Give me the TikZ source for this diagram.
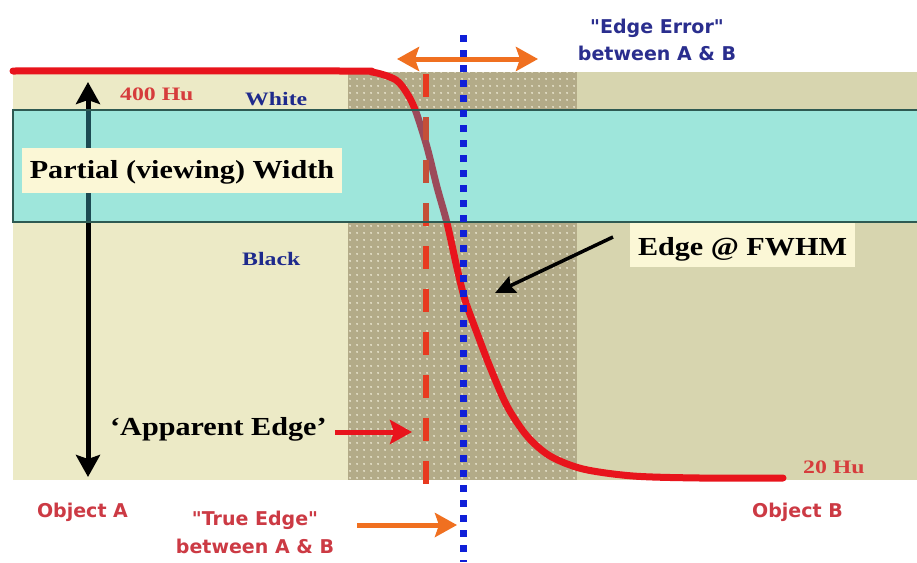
\documentclass[tikz,border=0pt]{standalone}
\usepackage{fontspec}
\setmainfont{Liberation Serif}
\newfontfamily\bigserif{Liberation Serif}[FakeStretch=1.16]
\newfontfamily\smallserif{Liberation Serif}[FakeStretch=1.25]
\newfontfamily\labsans{DejaVu Sans}
\usetikzlibrary{arrows.meta,patterns.meta}
\definecolor{beigeL}{HTML}{ECEAC6}
\definecolor{beigeM}{HTML}{B3AB88}
\definecolor{beigeR}{HTML}{D7D5AF}
\definecolor{dotc}{HTML}{EAE6D0}
\definecolor{cyanband}{HTML}{9EE6DB}
\definecolor{cyanedge}{HTML}{2E5A52}
\definecolor{cream}{HTML}{FBF7D6}
\definecolor{curvered}{HTML}{E8141C}
\definecolor{curvemute}{HTML}{9C4A5A}
\definecolor{dashred}{HTML}{E83A20}
\definecolor{dashmute}{HTML}{C45038}
\definecolor{shaftmute}{HTML}{1C4A52}
\definecolor{dotblue}{HTML}{1020D8}
\definecolor{orangearr}{HTML}{F07020}
\definecolor{txtred}{HTML}{CC3A44}
\definecolor{txtserred}{HTML}{D63C3C}
\definecolor{txtblue}{HTML}{1E2A8C}
\definecolor{txtblue2}{HTML}{2A2E8E}
\tikzdeclarepattern{
  name=wdots,
  type=uncolored,
  bounding box={(-3.25pt,-3.25pt) and (3.25pt,3.25pt)},
  tile size={(6.5pt,6.5pt)},
  code={\fill (0pt,0pt) circle (1.1pt);}
}
\newcommand{\edgecurvepath}{plot[smooth,tension=0.5] coordinates {(13,71) (340,71) (372,72) (396,80) (408,95) (416,112) (427,147) (437,187) (447,223) (457,268) (465,300) (477,333) (490,367) (507,406) (527,436) (550,456) (583,469) (633,476) (700,478) (783,478)}}
\tikzset{
  bigtxt/.style={font=\bigserif\bfseries\fontsize{26}{30}\selectfont, inner sep=0pt},
  smalltxt/.style={font=\smallserif\bfseries\fontsize{19}{22}\selectfont, inner sep=0pt, anchor=base west},
  sanstxt/.style={font=\labsans\bfseries\fontsize{19}{27}\selectfont, inner sep=0pt, anchor=base},
  labelbox/.style={bigtxt, fill=cream, align=center, text height=20pt, text depth=4pt},
  redcurve/.style={line width=7pt, color=curvered, line cap=round, line join=round},
  reddash/.style={line width=6pt, color=dashred, dash pattern=on 23pt off 20pt},
  bluedots/.style={line width=7pt, color=dotblue, dash pattern=on 7pt off 8pt},
  bigarrow/.style={line width=5pt, arrows={-Stealth[length=22pt,width=24pt,inset=4pt]}},
  bigdarrow/.style={line width=5pt, arrows={Stealth[length=22pt,width=24pt,inset=4pt]-Stealth[length=22pt,width=24pt,inset=4pt]}},
  thinarrow/.style={line width=3.5pt, arrows={-Stealth[length=20pt,width=18pt,inset=3pt]}}
}
\begin{document}
\begin{tikzpicture}[x=1pt,y=-1pt]
\useasboundingbox (0,0) rectangle (917,562);
\fill[white] (0,0) rectangle (917,562);
% background regions
\fill[beigeL] (13,72) rectangle (348,480);
\fill[beigeM] (348,72) rectangle (577,480);
\fill[pattern=wdots, pattern color=dotc] (348,72) rectangle (577,480);
\fill[beigeR] (577,72) rectangle (917,480);
% vertical double arrow
\coordinate (vt) at (88,82);
\coordinate (vb) at (88,477);
\draw[bigdarrow, black] (vt) -- (vb);
% red response curve
\draw[redcurve] \edgecurvepath;
% apparent edge dashed line
\coordinate (dt) at (426,74);
\coordinate (db) at (426,490);
\draw[reddash] (dt) -- (db);
% cyan band
\fill[cyanband] (13,110) rectangle (925,222);
\begin{scope}
  \clip (13,110) rectangle (925,222);
  \draw[line width=5pt, shaftmute] (vt) -- (vb);
  \draw[redcurve, color=curvemute] \edgecurvepath;
  \draw[reddash, color=dashmute] (dt) -- (db);
\end{scope}
\draw[cyanedge, line width=2pt] (925,110) -- (13,110) -- (13,222) -- (925,222);
% label boxes
\node[labelbox, minimum width=320pt, minimum height=45pt] (pw) at (182,170.5) {Partial (viewing) Width};
\node[labelbox, minimum width=225pt, minimum height=44pt, text height=22pt, text depth=2pt] (fwhm) at (742.5,245) {Edge @ FWHM};
% small serif labels
\node[smalltxt, txtserred] (hu400) at (120,100) {400 Hu};
\node[smalltxt, txtblue] (white) at (245,105) {White};
\node[smalltxt, txtblue] (black) at (242,265) {Black};
\node[smalltxt, txtserred] (hu20) at (803,473) {20 Hu};
% apparent edge label
\node[bigtxt, anchor=base west] (app) at (110,435) {‘Apparent Edge’};
\coordinate (appstart) at (335,432);
\coordinate (append) at (412,432);
\draw[bigarrow, color=curvered] (appstart) -- (append);
% FWHM pointer
\coordinate (fwstart) at (613,237);
\coordinate (fwtip) at (495,293);
\draw[thinarrow, black] (fwstart) -- (fwtip);
% sans labels
\node[sanstxt, txtred] (obja) at (82.5,517) {Object A};
\node[sanstxt, txtred] (objb) at (797.5,517) {Object B};
\node[sanstxt, txtred] (te1) at (255,525) {"True Edge"};
\node[sanstxt, txtred] (te2) at (255,553) {between A \& B};
\node[sanstxt, txtblue2] (ee1) at (657,33) {"Edge Error"};
\node[sanstxt, txtblue2] (ee2) at (657,60) {between A \& B};
% orange arrows
\coordinate (eel) at (397,59);
\coordinate (eer) at (538,59);
\draw[bigdarrow, orangearr] (eel) -- (eer);
\coordinate (tes) at (357,525);
\coordinate (tee) at (457,525);
\draw[bigarrow, orangearr] (tes) -- (tee);
% true edge blue dotted line
\coordinate (bt) at (463,35);
\coordinate (bb) at (463,562);
\draw[bluedots] (bt) -- (bb);
\end{tikzpicture}
\end{document}
